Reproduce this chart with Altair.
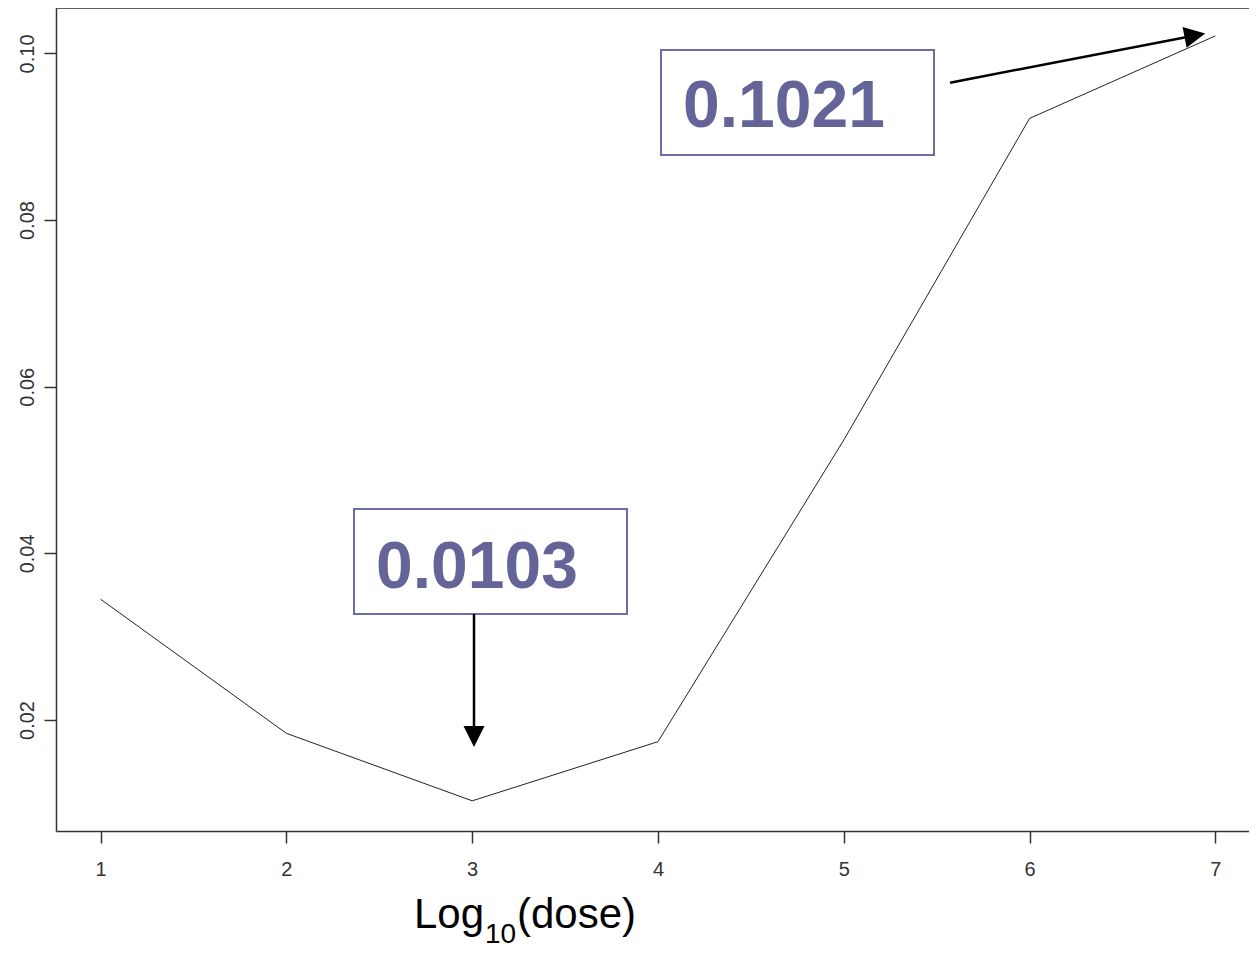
import altair as alt
import pandas as pd

# Data
dose_log10 = [1, 2, 3, 4, 5, 6, 7]
values = [0.0345, 0.0184, 0.0103, 0.0174, 0.0536, 0.0922, 0.1021]
x_ticks = [1, 2, 3, 4, 5, 6, 7]
y_ticks = [0.02, 0.04, 0.06, 0.08, 0.10]
callout_labels = ["0.1021", "0.0103"]

df = pd.DataFrame({"dose": dose_log10, "value": values})
one = pd.DataFrame({"k": [0]})

W, H = 1193, 823
FONT = "Liberation Sans"
AX = "#333333"
BOX = "#6d6da5"
TXT = "#646498"

xscale = alt.Scale(domain=[0.76, 7.181], nice=False, zero=False)
yscale = alt.Scale(domain=[0.00668, 0.10545], nice=False, zero=False)

line = alt.Chart(df).mark_line(color="#222222", strokeWidth=1).encode(
    x=alt.X("dose:Q", scale=xscale,
            axis=alt.Axis(values=x_ticks, format="d", title=None, grid=False,
                          tickSize=12, labelPadding=32, labelBaseline="alphabetic",
                          labelFontSize=20, labelFont=FONT, labelColor=AX,
                          domainColor=AX, tickColor=AX, domainWidth=1.5, tickWidth=1.5,
                          labelFlush=False)),
    y=alt.Y("value:Q", scale=yscale,
            axis=alt.Axis(values=y_ticks, format=".2f", title=None, grid=False,
                          tickSize=12, labelPadding=11, labelAngle=270,
                          labelAlign="center", labelBaseline="alphabetic",
                          labelFontSize=20, labelFont=FONT, labelColor=AX,
                          domainColor=AX, tickColor=AX, domainWidth=1.5, tickWidth=1.5,
                          labelFlush=False)),
)

top_border = alt.Chart(one).mark_rule(color=AX, strokeWidth=1.5).encode(
    x=alt.value(0), x2=alt.value(W), y=alt.value(0)
)

# callout boxes (page coords minus plot origin 56,8)
box1 = alt.Chart(one).mark_rect(fill="white", stroke=BOX, strokeWidth=2).encode(
    x=alt.value(605), x2=alt.value(878), y=alt.value(42), y2=alt.value(147)
)
box2 = alt.Chart(one).mark_rect(fill="white", stroke=BOX, strokeWidth=2).encode(
    x=alt.value(298), x2=alt.value(571), y=alt.value(501), y2=alt.value(606)
)
t1 = alt.Chart(one).mark_text(text=callout_labels[0], font=FONT, fontSize=66,
                              fontWeight="bold", color=TXT, align="left",
                              baseline="alphabetic").encode(
    x=alt.value(627), y=alt.value(119)
)
t2 = alt.Chart(one).mark_text(text=callout_labels[1], font=FONT, fontSize=66,
                              fontWeight="bold", color=TXT, align="left",
                              baseline="alphabetic").encode(
    x=alt.value(320), y=alt.value(580)
)

# arrows
arrow1_line = alt.Chart(one).mark_rule(color="black", strokeWidth=2.5).encode(
    x=alt.value(950 - 56), y=alt.value(82.7 - 8),
    x2=alt.value(1194.9 - 56), y2=alt.value(35.4 - 8)
)
arrow1_head = alt.Chart(one).mark_point(shape="M-1,-1L1,0L-1,1Z", filled=True,
                                        color="black", opacity=1, size=441,
                                        angle=349).encode(
    x=alt.value(1194.9 - 56), y=alt.value(35.4 - 8)
)
arrow2_line = alt.Chart(one).mark_rule(color="black", strokeWidth=2.5).encode(
    x=alt.value(474 - 56), y=alt.value(614 - 8), y2=alt.value(736 - 8)
)
arrow2_head = alt.Chart(one).mark_point(shape="M-1,-1L1,-1L0,1Z", filled=True,
                                        color="black", opacity=1, size=441).encode(
    x=alt.value(474 - 56), y=alt.value(736.5 - 8)
)

# x-axis title with subscript
title_main = alt.Chart(one).mark_text(text="Log", font=FONT, fontSize=42, color="black",
                                      align="right", baseline="alphabetic").encode(
    x=alt.value(428), y=alt.value(920)
)
title_sub = alt.Chart(one).mark_text(text="10", font=FONT, fontSize=28, color="black",
                                     align="left", baseline="alphabetic").encode(
    x=alt.value(429), y=alt.value(935)
)
title_rest = alt.Chart(one).mark_text(text="(dose)", font=FONT, fontSize=42, color="black",
                                      align="left", baseline="alphabetic").encode(
    x=alt.value(461), y=alt.value(920)
)

chart = alt.layer(
    line, top_border, box1, box2, t1, t2,
    arrow1_line, arrow1_head, arrow2_line, arrow2_head,
    title_main, title_sub, title_rest,
).properties(
    width=W, height=H,
    autosize=alt.AutoSizeParams(type="none"),
    padding={"left": 48, "top": 0, "right": 0, "bottom": 120},
).configure_view(stroke=None).configure(background="white")

chart.save("out.html", embed_options={"renderer": "svg", "actions": False})
